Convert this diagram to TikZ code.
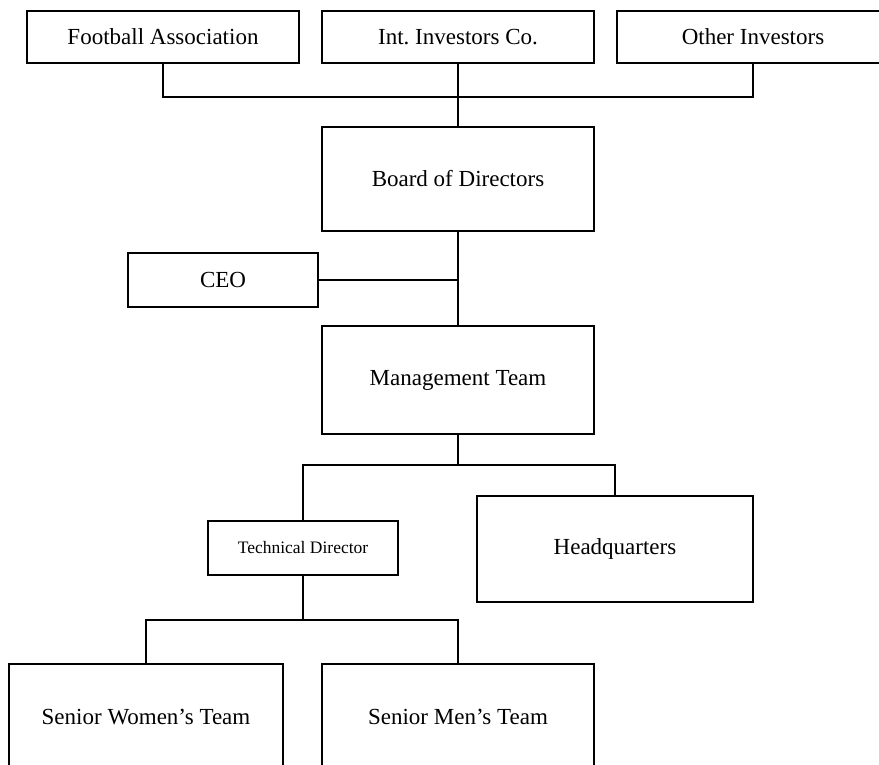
\documentclass[tikz,border=0pt]{standalone}
\usepackage{fontspec}
\setmainfont{Liberation Serif}
\frenchspacing
\begin{document}
\begin{tikzpicture}[x=1pt,y=-1pt,
  box/.style={draw=black, line width=2pt, inner sep=0pt, align=center,
    font=\fontsize{23}{27}\selectfont},
  conn/.style={draw=black, line width=2pt}]
\clip (0,0) rectangle (879,765);
\fill[white] (0,0) rectangle (879,765);
% top row
\node[box, minimum width=272pt, minimum height=52pt] (fa) at (163,37) {Football Association};
\node[box, minimum width=272pt, minimum height=52pt] (ii) at (458,37) {Int.\ Investors Co.};
\node[box, minimum width=272pt, minimum height=52pt] (oi) at (753,37) {Other Investors};
% board
\node[box, minimum width=272pt, minimum height=104pt] (bd) at (458,179) {Board of Directors};
\node[box, minimum width=190pt, minimum height=54pt] (ceo) at (223,280) {CEO};
\node[box, minimum width=272pt, minimum height=108pt] (mg) at (458,380) {Management Team};
% third level
\node[box, minimum width=190pt, minimum height=54pt, font=\fontsize{17.5}{21}\selectfont] (td) at (303,548) {Technical Director};
\node[box, minimum width=276pt, minimum height=106pt] (hq) at (615,549) {Headquarters};
% teams
\node[box, minimum width=274pt, minimum height=106pt] (sw) at (146,717) {Senior Women’s Team};
\node[box, minimum width=272pt, minimum height=106pt] (sm) at (458,717) {Senior Men’s Team};
% junctions
\coordinate (j1) at (458,97);
\coordinate (j2) at (458,465);
\coordinate (j3) at (303,620);
% connectors
\draw[conn] (fa.south) |- (j1) -| (oi.south);
\draw[conn] (ii.south) -- (bd.north);
\draw[conn] (bd.south) -- (mg.north);
\draw[conn] (ceo.east) -- (ceo.east -| bd.south);
\draw[conn] (mg.south) -- (j2);
\draw[conn] (td.north) |- (j2) -| (hq.north);
\draw[conn] (td.south) -- (j3);
\draw[conn] (sw.north) |- (j3) -| (sm.north);
\end{tikzpicture}
\end{document}
